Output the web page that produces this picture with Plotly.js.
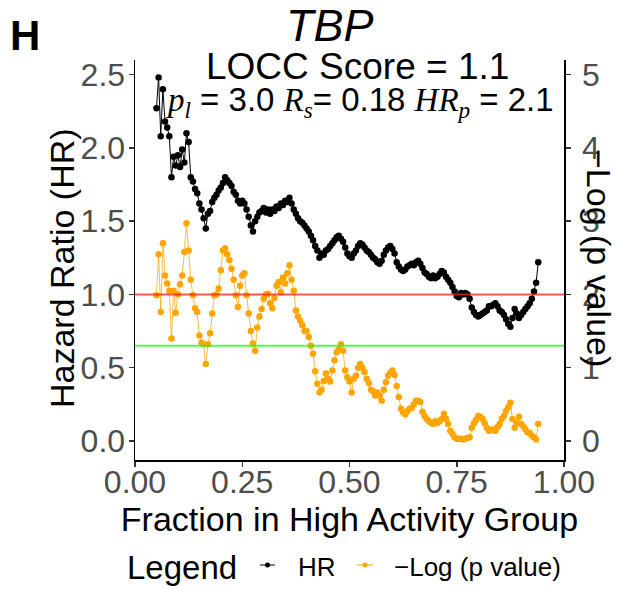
<!DOCTYPE html>
<html>
<head>
<meta charset="utf-8">
<script src="https://cdn.plot.ly/plotly-3.0.1.min.js"></script>
<style>html,body{margin:0;padding:0;background:#fff;}#chart{width:618px;height:589px;}</style>
</head>
<body>
<div id="chart"></div>
<script>
const fraction = [
0.050,0.055,0.060,0.065,0.070,0.075,0.080,0.085,0.090,0.095,
0.100,0.105,0.110,0.115,0.120,0.125,0.130,0.135,0.140,0.145,
0.150,0.155,0.160,0.165,0.170,0.175,0.180,0.185,0.190,0.195,
0.200,0.205,0.210,0.215,0.220,0.225,0.230,0.235,0.240,0.245,
0.250,0.255,0.260,0.265,0.270,0.275,0.280,0.285,0.290,0.295,
0.300,0.305,0.310,0.315,0.320,0.325,0.330,0.335,0.340,0.345,
0.350,0.355,0.360,0.365,0.370,0.375,0.380,0.385,0.390,0.395,
0.400,0.405,0.410,0.415,0.420,0.425,0.430,0.435,0.440,0.445,
0.450,0.455,0.460,0.465,0.470,0.475,0.480,0.485,0.490,0.495,
0.500,0.505,0.510,0.515,0.520,0.525,0.530,0.535,0.540,0.545,
0.550,0.555,0.560,0.565,0.570,0.575,0.580,0.585,0.590,0.595,
0.600,0.605,0.610,0.615,0.620,0.625,0.630,0.635,0.640,0.645,
0.650,0.655,0.660,0.665,0.670,0.675,0.680,0.685,0.690,0.695,
0.700,0.705,0.710,0.715,0.720,0.725,0.730,0.735,0.740,0.745,
0.750,0.755,0.760,0.765,0.770,0.775,0.780,0.785,0.790,0.795,
0.800,0.805,0.810,0.815,0.820,0.825,0.830,0.835,0.840,0.845,
0.850,0.855,0.860,0.865,0.870,0.875,0.880,0.885,0.890,0.895,
0.900,0.905,0.910,0.915,0.920,0.925,0.930,0.935,0.940
];
const hazardRatio = [
2.27,2.48,2.08,2.40,2.18,2.14,2.08,1.80,1.94,1.88,
1.95,1.87,1.99,1.90,2.10,2.04,1.80,1.77,1.72,1.69,
1.62,1.58,1.52,1.45,1.55,1.57,1.63,1.66,1.68,1.71,
1.73,1.76,1.80,1.78,1.76,1.74,1.70,1.68,1.64,1.62,
1.64,1.62,1.58,1.53,1.47,1.43,1.50,1.53,1.56,1.57,
1.59,1.56,1.58,1.55,1.58,1.57,1.60,1.59,1.62,1.61,
1.64,1.63,1.66,1.62,1.58,1.55,1.52,1.50,1.49,1.47,
1.45,1.43,1.40,1.37,1.33,1.30,1.25,1.28,1.27,1.30,
1.31,1.33,1.35,1.37,1.39,1.40,1.38,1.36,1.32,1.28,
1.26,1.25,1.28,1.30,1.33,1.35,1.34,1.32,1.30,1.29,
1.27,1.25,1.24,1.22,1.21,1.23,1.27,1.30,1.32,1.33,
1.31,1.28,1.22,1.19,1.17,1.16,1.17,1.19,1.20,1.21,
1.20,1.22,1.23,1.21,1.18,1.15,1.14,1.12,1.11,1.13,
1.11,1.12,1.14,1.16,1.15,1.12,1.10,1.08,1.05,1.02,
0.99,0.98,1.01,1.00,1.01,1.00,0.97,0.91,0.88,0.86,
0.85,0.86,0.87,0.88,0.89,0.92,0.92,0.93,0.94,0.92,
0.89,0.88,0.86,0.83,0.80,0.78,0.84,0.90,0.87,0.84,
0.86,0.88,0.90,0.92,0.94,0.97,1.02,1.08,1.22
];
const negLogP = [
1.99,2.55,1.76,2.70,2.26,2.15,2.05,1.40,2.05,1.75,
2.00,2.14,2.26,2.58,2.97,2.60,2.20,1.99,1.81,1.76,
1.44,1.34,1.32,1.05,1.32,1.47,1.74,1.99,2.00,2.08,
2.33,2.60,2.63,2.55,2.47,2.35,2.20,1.99,1.83,2.12,
2.26,2.29,1.99,1.74,1.50,1.33,1.23,1.55,1.70,1.80,
1.94,2.00,2.01,1.88,1.81,1.95,2.12,2.17,2.03,2.23,
2.15,2.29,2.40,2.20,2.05,1.78,1.70,1.64,1.58,1.50,
1.50,1.42,1.30,1.19,0.95,0.78,0.66,0.70,0.82,0.92,
0.85,0.81,0.96,1.10,1.21,1.25,1.32,1.23,0.96,0.87,
0.81,0.66,0.85,0.89,1.00,1.05,1.00,0.94,0.85,0.79,
0.70,0.68,0.62,0.66,0.62,0.55,0.70,0.80,0.89,0.93,
0.96,0.90,0.75,0.60,0.44,0.39,0.36,0.41,0.44,0.45,
0.50,0.55,0.55,0.53,0.40,0.34,0.30,0.27,0.25,0.23,
0.27,0.25,0.27,0.30,0.37,0.30,0.23,0.14,0.10,0.05,
0.03,0.03,0.03,0.02,0.03,0.04,0.05,0.18,0.24,0.29,
0.34,0.33,0.30,0.24,0.18,0.14,0.15,0.16,0.14,0.19,
0.23,0.30,0.34,0.41,0.46,0.52,0.30,0.18,0.25,0.33,
0.23,0.20,0.16,0.12,0.11,0.07,0.05,0.02,0.23
];
const xTickVals = [0, 0.25, 0.5, 0.75, 1];
const xTickText = ['0.00', '0.25', '0.50', '0.75', '1.00'];
const yTickVals = [0, 0.5, 1, 1.5, 2, 2.5];
const yTickText = ['0.0', '0.5', '1.0', '1.5', '2.0', '2.5'];
const y2TickVals = [0, 1, 2, 3, 4, 5];
const y2TickText = ['0', '1', '2', '3', '4', '5'];
const hrReference = 1;
const pReference = 1.30;
const seriesNames = ['HR', '\u2212Log (p value)'];

const FONT = 'Liberation Sans, Arial, Helvetica, sans-serif';
const SERIF = "'Liberation Serif', 'DejaVu Serif', serif";
const orange = '#FFA500';

const traces = [
  {
    x: fraction, y: hazardRatio, name: seriesNames[0], type: 'scatter', mode: 'lines+markers',
    xaxis: 'x', yaxis: 'y',
    line: {color: '#000000', width: 1},
    marker: {color: '#000000', size: 6.5},
    showlegend: false
  },
  {
    x: fraction, y: negLogP, name: seriesNames[1], type: 'scatter', mode: 'lines+markers',
    xaxis: 'x', yaxis: 'y2',
    line: {color: 'rgba(255,165,0,0.75)', width: 1},
    marker: {color: orange, size: 6.5},
    showlegend: false
  }
];

// pixel helpers for paper coordinates (plot area: x 135..564, y 60..460)
const L = 135, R = 564, T = 60, B = 460;
const px = v => (v - L) / (R - L);
const py = v => (B - v) / (B - T);

const mathVar = (v, s) => `<span style="font-family:${SERIF}"><i>${v}</i></span><sub><span style="font-family:${SERIF}"><i>${s}</i></span></sub>`;

const annotations = [
  {text: '<b>H</b>', x: px(25), y: py(35), xref: 'paper', yref: 'paper', showarrow: false,
   xanchor: 'center', yanchor: 'middle', font: {family: FONT, size: 42, color: '#000'}},
  {text: '<i>TBP</i>', x: px(330), y: py(25), xref: 'paper', yref: 'paper', showarrow: false,
   xanchor: 'center', yanchor: 'middle', font: {family: FONT, size: 45, color: '#000'}},
  {text: 'LOCC Score = 1.1', x: px(357), y: py(66), xref: 'paper', yref: 'paper', showarrow: false,
   xanchor: 'center', yanchor: 'middle', font: {family: FONT, size: 37, color: '#000'}},
  {text: mathVar('p', 'l') + ' = 3.0 ' + mathVar('R', 's') + '= 0.18 ' + mathVar('HR', 'p') + ' = 2.1',
   x: px(360), y: py(102), xref: 'paper', yref: 'paper', showarrow: false,
   xanchor: 'center', yanchor: 'middle', font: {family: FONT, size: 33, color: '#000'}},
  {text: 'Hazard Ratio (HR)', x: px(62), y: py(268), xref: 'paper', yref: 'paper', showarrow: false,
   textangle: -90, xanchor: 'center', yanchor: 'middle', font: {family: FONT, size: 34, color: '#000'}},
  {text: seriesNames[1], x: px(599), y: py(258), xref: 'paper', yref: 'paper', showarrow: false,
   textangle: 90, xanchor: 'center', yanchor: 'middle', font: {family: FONT, size: 34, color: '#000'}},
  // legend
  {text: 'Legend', x: px(125), y: py(567), xref: 'paper', yref: 'paper', showarrow: false,
   xanchor: 'left', yanchor: 'middle', font: {family: FONT, size: 33, color: '#000'}},
  {text: seriesNames[0], x: px(296), y: py(567), xref: 'paper', yref: 'paper', showarrow: false,
   xanchor: 'left', yanchor: 'middle', font: {family: FONT, size: 26, color: '#000'}},
  {text: seriesNames[1], x: px(392), y: py(567), xref: 'paper', yref: 'paper', showarrow: false,
   xanchor: 'left', yanchor: 'middle', font: {family: FONT, size: 26, color: '#000'}}
];

const shapes = [
  {type: 'line', xref: 'paper', x0: 0, x1: 1, yref: 'y', y0: hrReference, y1: hrReference,
   line: {color: 'rgba(255,30,30,0.75)', width: 2}, layer: 'above'},
  {type: 'line', xref: 'paper', x0: 0, x1: 1, yref: 'y2', y0: pReference, y1: pReference,
   line: {color: 'rgba(20,255,20,0.75)', width: 2}, layer: 'above'},
  // legend keys
  {type: 'line', xref: 'paper', yref: 'paper', x0: px(260), x1: px(275), y0: py(565), y1: py(565),
   line: {color: '#000', width: 1}},
  {type: 'circle', xref: 'paper', yref: 'paper', xsizemode: 'pixel', ysizemode: 'pixel',
   xanchor: px(267.5), yanchor: py(565), x0: -2.5, x1: 2.5, y0: -2.5, y1: 2.5,
   fillcolor: '#000', line: {width: 0}},
  {type: 'line', xref: 'paper', yref: 'paper', x0: px(357), x1: px(373), y0: py(565), y1: py(565),
   line: {color: orange, width: 1}},
  {type: 'circle', xref: 'paper', yref: 'paper', xsizemode: 'pixel', ysizemode: 'pixel',
   xanchor: px(365), yanchor: py(565), x0: -2.5, x1: 2.5, y0: -2.5, y1: 2.5,
   fillcolor: orange, line: {width: 0}}
];

const axisCommon = {
  showline: true, linecolor: '#000', linewidth: 1.5,
  ticks: 'outside', ticklen: 5, tickwidth: 1.5, tickcolor: '#333333',
  showgrid: false, zeroline: false,
  tickfont: {family: FONT, size: 32, color: '#4D4D4D'}
};

const layout = {
  width: 618, height: 589,
  margin: {l: L, r: 618 - R, t: T, b: 589 - B, pad: 0},
  paper_bgcolor: '#fff', plot_bgcolor: '#fff',
  showlegend: false,
  font: {family: FONT, color: '#000'},
  xaxis: Object.assign({}, axisCommon, {
    range: [0, 1], tickmode: 'array', tickvals: xTickVals, ticktext: xTickText,
    ticklabelstandoff: -12,
    title: {text: 'Fraction in High Activity Group', font: {family: FONT, size: 34, color: '#000'}, standoff: 0}
  }),
  yaxis: Object.assign({}, axisCommon, {
    range: [-0.13, 2.60], tickmode: 'array', tickvals: yTickVals, ticktext: yTickText,
    ticklabelstandoff: -3
  }),
  yaxis2: Object.assign({}, axisCommon, {
    overlaying: 'y', side: 'right',
    range: [-0.26, 5.20], tickmode: 'array', tickvals: y2TickVals, ticktext: y2TickText,
    ticklabelstandoff: 5
  }),
  annotations: annotations,
  shapes: shapes
};

Plotly.newPlot('chart', traces, layout, {displayModeBar: false, staticPlot: true});
</script>
</body>
</html>
